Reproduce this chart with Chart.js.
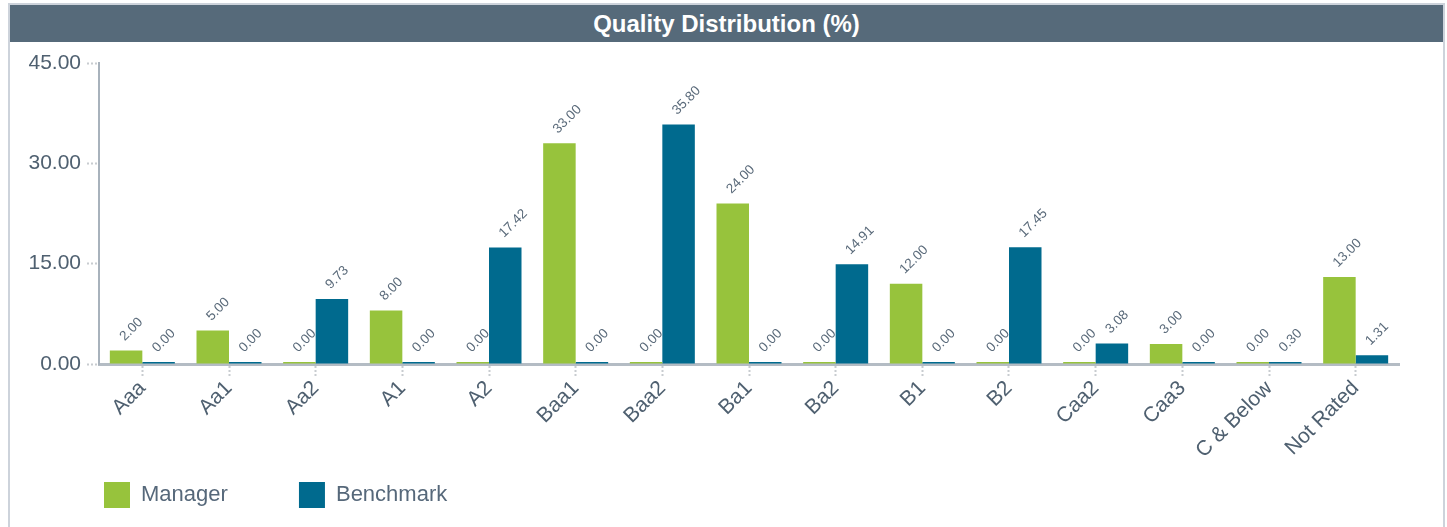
<!DOCTYPE html>
<html>
<head>
<meta charset="utf-8">
<script src="https://cdn.jsdelivr.net/npm/chart.js@4"></script>
<style>
  body { margin: 0; background: #fff; font-family: "Liberation Sans", Arial, sans-serif; }
  .panel { position: absolute; left: 8px; top: 3px; width: 1433px; height: 526px; border: 2px solid #cdd3db; border-bottom: none; }
  .title { height: 37px; background: #566a7a; color: #fff; font-weight: bold; font-size: 24px; text-align: center; line-height: 37px; }
  .wrap { position: relative; width: 1433px; height: 484px; }
</style>
</head>
<body>
<div class="panel">
  <div class="title">Quality Distribution (%)</div>
  <div class="wrap"><canvas id="chart"></canvas></div>
</div>
<script>
// Quality distribution chart
const categories = ['Aaa', 'Aa1', 'Aa2', 'A1', 'A2', 'Baa1', 'Baa2', 'Ba1', 'Ba2', 'B1', 'B2', 'Caa2', 'Caa3', 'C & Below', 'Not Rated'];
const managerValues = [2.00, 5.00, 0.00, 8.00, 0.00, 33.00, 0.00, 24.00, 0.00, 12.00, 0.00, 0.00, 3.00, 0.00, 13.00];
const benchmarkValues = [0.00, 0.00, 9.73, 0.00, 17.42, 0.00, 35.80, 0.00, 14.91, 0.00, 17.45, 3.08, 0.00, 0.30, 1.31];
const yTicks = [0, 15, 30, 45];

const textColor = '#4f6070';
const fontFamily = '"Liberation Sans", Arial, sans-serif';

// draws the rotated value labels above each bar
const valueLabels = {
  id: 'valueLabels',
  afterDatasetsDraw(chart) {
    const ctx = chart.ctx;
    ctx.save();
    ctx.font = '13.5px ' + fontFamily;
    ctx.fillStyle = '#5a6a7a';
    ctx.textAlign = 'left';
    ctx.textBaseline = 'middle';
    chart.data.datasets.forEach((ds, i) => {
      chart.getDatasetMeta(i).data.forEach((bar, j) => {
        ctx.save();
        ctx.translate(bar.x - 4, bar.y - 12);
        ctx.rotate(-Math.PI / 4);
        ctx.fillText(ds.data[j].toFixed(2), 0, 0);
        ctx.restore();
      });
    });
    ctx.restore();
  }
};

// legend starts under the plot, not at the canvas edge
const legendShift = {
  id: 'legendShift',
  afterLayout(chart) {
    chart.legend.left = 84;
  }
};

new Chart(document.getElementById('chart'), {
  type: 'bar',
  data: {
    labels: categories,
    datasets: [
      { label: 'Manager', data: managerValues, backgroundColor: '#97c33c', minBarLength: 2 },
      { label: 'Benchmark', data: benchmarkValues, backgroundColor: '#006a8e', minBarLength: 2 }
    ]
  },
  options: {
    responsive: true,
    maintainAspectRatio: false,
    animation: false,
    categoryPercentage: 0.75,
    barPercentage: 1,
    layout: { padding: { top: 21, right: 44, bottom: 8, left: 0 } },
    plugins: {
      tooltip: { enabled: false },
      legend: {
        position: 'bottom',
        align: 'start',
        labels: {
          boxWidth: 26,
          boxHeight: 26,
          padding: 10,
          color: '#56687a',
          font: { size: 22, family: fontFamily },
          generateLabels(chart) {
            return chart.data.datasets.map((ds, i) => ({
              text: ds.label + (i === 0 ? '          ' : ''),
              fillStyle: ds.backgroundColor,
              strokeStyle: ds.backgroundColor,
              fontColor: '#56687a',
              lineWidth: 0,
              datasetIndex: i
            }));
          }
        }
      }
    },
    scales: {
      x: {
        grid: {
          offset: false,
          drawOnChartArea: false,
          tickLength: 12,
          tickColor: '#c8ccd0',
          tickWidth: 2,
          tickBorderDash: [2, 2]
        },
        border: { color: '#b4bcc4', width: 3 },
        ticks: {
          color: textColor,
          font: { size: 21, family: fontFamily },
          minRotation: 45,
          maxRotation: 45,
          padding: 0
        },
        afterFit(scale) { scale.height = 108; }
      },
      y: {
        min: 0,
        max: 45,
        afterBuildTicks(scale) { scale.ticks = yTicks.map(v => ({ value: v })); },
        grid: {
          drawOnChartArea: false,
          tickLength: 12,
          tickColor: '#c8ccd0',
          tickWidth: 2,
          tickBorderDash: [2, 2]
        },
        border: { color: '#a8b2bc', width: 2 },
        ticks: {
          color: textColor,
          font: { size: 21, family: fontFamily },
          padding: 6,
          callback: v => v.toFixed(2)
        },
        afterFit(scale) { scale.width = 89; }
      }
    }
  },
  plugins: [valueLabels, legendShift]
});
</script>
</body>
</html>
